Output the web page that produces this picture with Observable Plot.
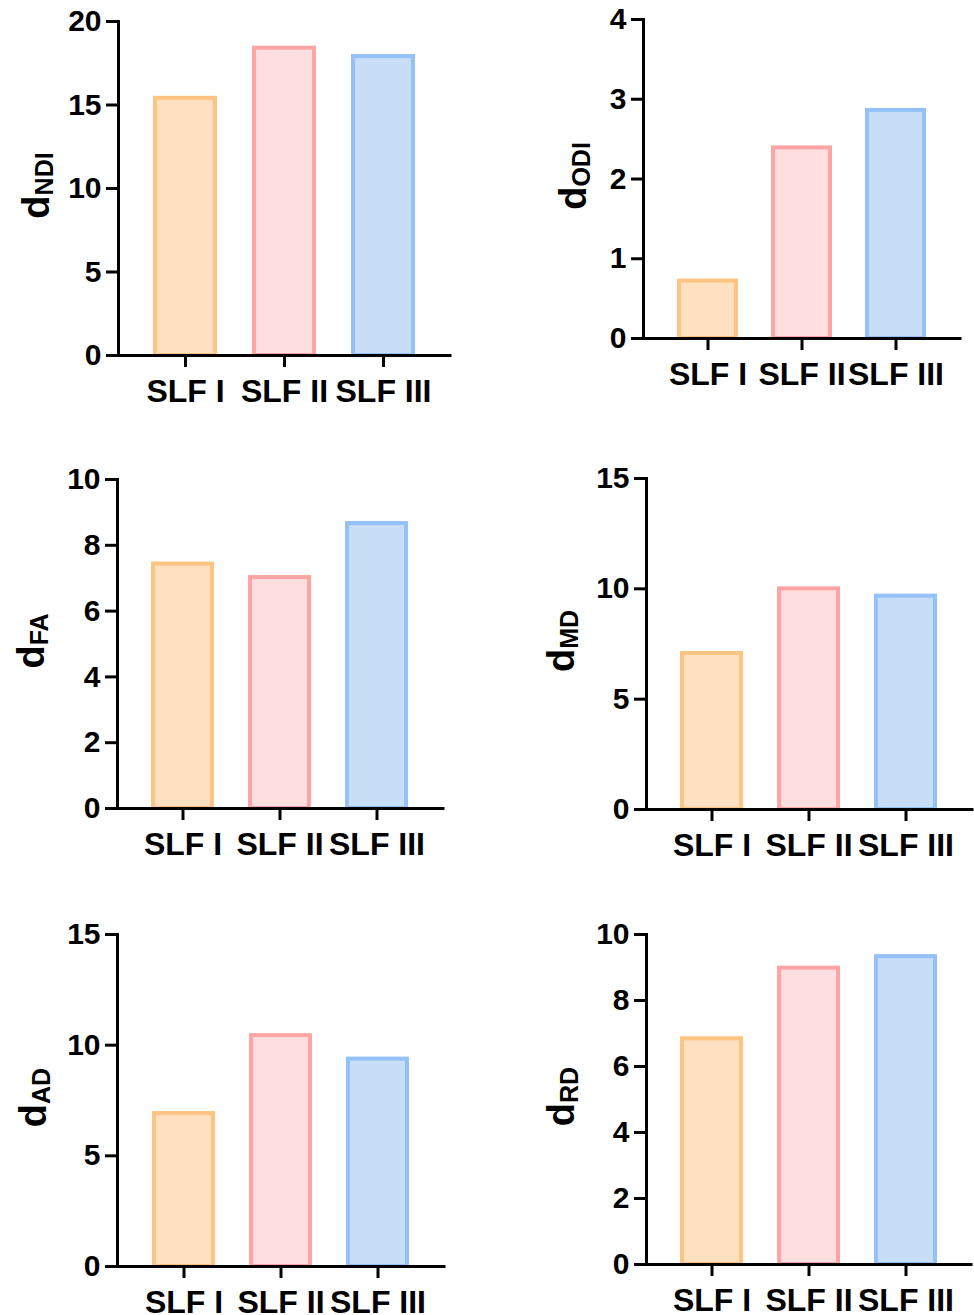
<!DOCTYPE html>
<html>
<head>
<meta charset="utf-8">
<script src="https://cdn.jsdelivr.net/npm/d3@7"></script>
<script src="https://cdn.jsdelivr.net/npm/@observablehq/plot@0.6"></script>
<style>
  html, body { margin: 0; padding: 0; background: #fff; }
  #root { position: relative; width: 974px; height: 1315px; overflow: hidden; background: #fff; }
  .panel { position: absolute; }
  .panel svg { font-family: "Liberation Sans", Arial, sans-serif; color: #000; }
</style>
</head>
<body>
<div id="root"></div>
<script>
// ---- data ----
const categories = ["SLF I", "SLF II", "SLF III"];
const dNDI = [15.4, 18.4, 17.9];
const dODI = [0.72, 2.39, 2.86];
const dFA  = [7.43, 7.02, 8.66];
const dMD  = [7.07, 10.0, 9.67];
const dAD  = [6.91, 10.43, 9.37];
const dRD  = [6.84, 8.98, 9.33];
const ticksNDI = [0, 5, 10, 15, 20];
const ticksODI = [0, 1, 2, 3, 4];
const ticksFA  = [0, 2, 4, 6, 8, 10];
const ticksMD  = [0, 5, 10, 15];
const ticksAD  = [0, 5, 10, 15];
const ticksRD  = [0, 2, 4, 6, 8, 10];
const subscripts = ["NDI", "ODI", "FA", "MD", "AD", "RD"];
const fillColors   = ["#FFE0C0", "#FFDEE0", "#C8DEF7"];
const strokeColors = ["#FFC382", "#FFA4A4", "#94C1F7"];

const series = [dNDI, dODI, dFA, dMD, dAD, dRD];
const tickSets = [ticksNDI, ticksODI, ticksFA, ticksMD, ticksAD, ticksRD];

// ---- layout (svg box and margins per panel) ----
const layout = [
  {left: 0,   top: 0,   width: 487, height: 420, ml: 118, mt: 21, mr: 37, mb: 65, ldx: -70},
  {left: 487, top: 0,   width: 487, height: 420, ml: 156, mt: 19, mr: 14, mb: 82, ldx: -58},
  {left: 0,   top: 430, width: 487, height: 440, ml: 117, mt: 49, mr: 44, mb: 62, ldx: -74},
  {left: 487, top: 430, width: 487, height: 440, ml: 159, mt: 48, mr: 2,  mb: 61, ldx: -73},
  {left: 0,   top: 880, width: 487, height: 435, ml: 117, mt: 54, mr: 43, mb: 49, ldx: -72},
  {left: 487, top: 880, width: 487, height: 435, ml: 159, mt: 54, mr: 3,  mb: 51, ldx: -73}
];

const root = document.getElementById("root");
const font = "Liberation Sans, Arial, sans-serif";
const ns = "http://www.w3.org/2000/svg";

series.forEach((values, i) => {
  const L = layout[i];
  const ticks = tickSets[i];
  const sub = subscripts[i];
  const rows = categories.map((c, j) => ({cat: c, value: values[j], fill: fillColors[j], stroke: strokeColors[j]}));
  const chart = Plot.plot({
    width: L.width,
    height: L.height,
    marginLeft: L.ml,
    marginTop: L.mt,
    marginRight: L.mr,
    marginBottom: L.mb,
    style: {fontFamily: font, color: "#000", background: "transparent"},
    x: {type: "band", domain: categories, paddingInner: 0.39, paddingOuter: 0.365, axis: null},
    y: {domain: [0, d3.max(ticks)], axis: null},
    color: {type: "identity"},
    marks: [
      Plot.barY(rows, {x: "cat", y: "value", fill: "fill", stroke: "stroke", strokeWidth: 4}),
      Plot.ruleY([0], {stroke: "#000", strokeWidth: 3, strokeLinecap: "square"}),
      Plot.frame({anchor: "left", stroke: "#000", strokeWidth: 3, strokeLinecap: "square"}),
      Plot.axisY({ticks: ticks, tickSize: 12, tickPadding: 5, strokeWidth: 3, fontSize: 30, fontWeight: "bold", label: null, tickFormat: d => String(d)}),
      Plot.axisX({tickSize: 12, tickPadding: 12, strokeWidth: 3, fontSize: 32, fontWeight: "bold", label: null}),
      Plot.text([sub], {frameAnchor: "left", text: d => "d" + d, rotate: -90, dx: L.ldx, dy: -3,
        textAnchor: "middle", lineAnchor: "bottom", fontSize: 38, fontWeight: "bold", fill: "#000"})
    ]
  });
  // turn "dXXX" into d + subscript
  const t = Array.from(chart.querySelectorAll("text")).find(el => el.textContent === "d" + sub);
  if (t) {
    t.textContent = "";
    const a = document.createElementNS(ns, "tspan");
    a.textContent = "d";
    const b = document.createElementNS(ns, "tspan");
    b.textContent = sub;
    b.setAttribute("font-size", "25");
    b.setAttribute("dy", "4");
    t.appendChild(a);
    t.appendChild(b);
  }
  const div = document.createElement("div");
  div.className = "panel";
  div.style.left = L.left + "px";
  div.style.top = L.top + "px";
  div.appendChild(chart);
  root.appendChild(div);
});
</script>
</body>
</html>
